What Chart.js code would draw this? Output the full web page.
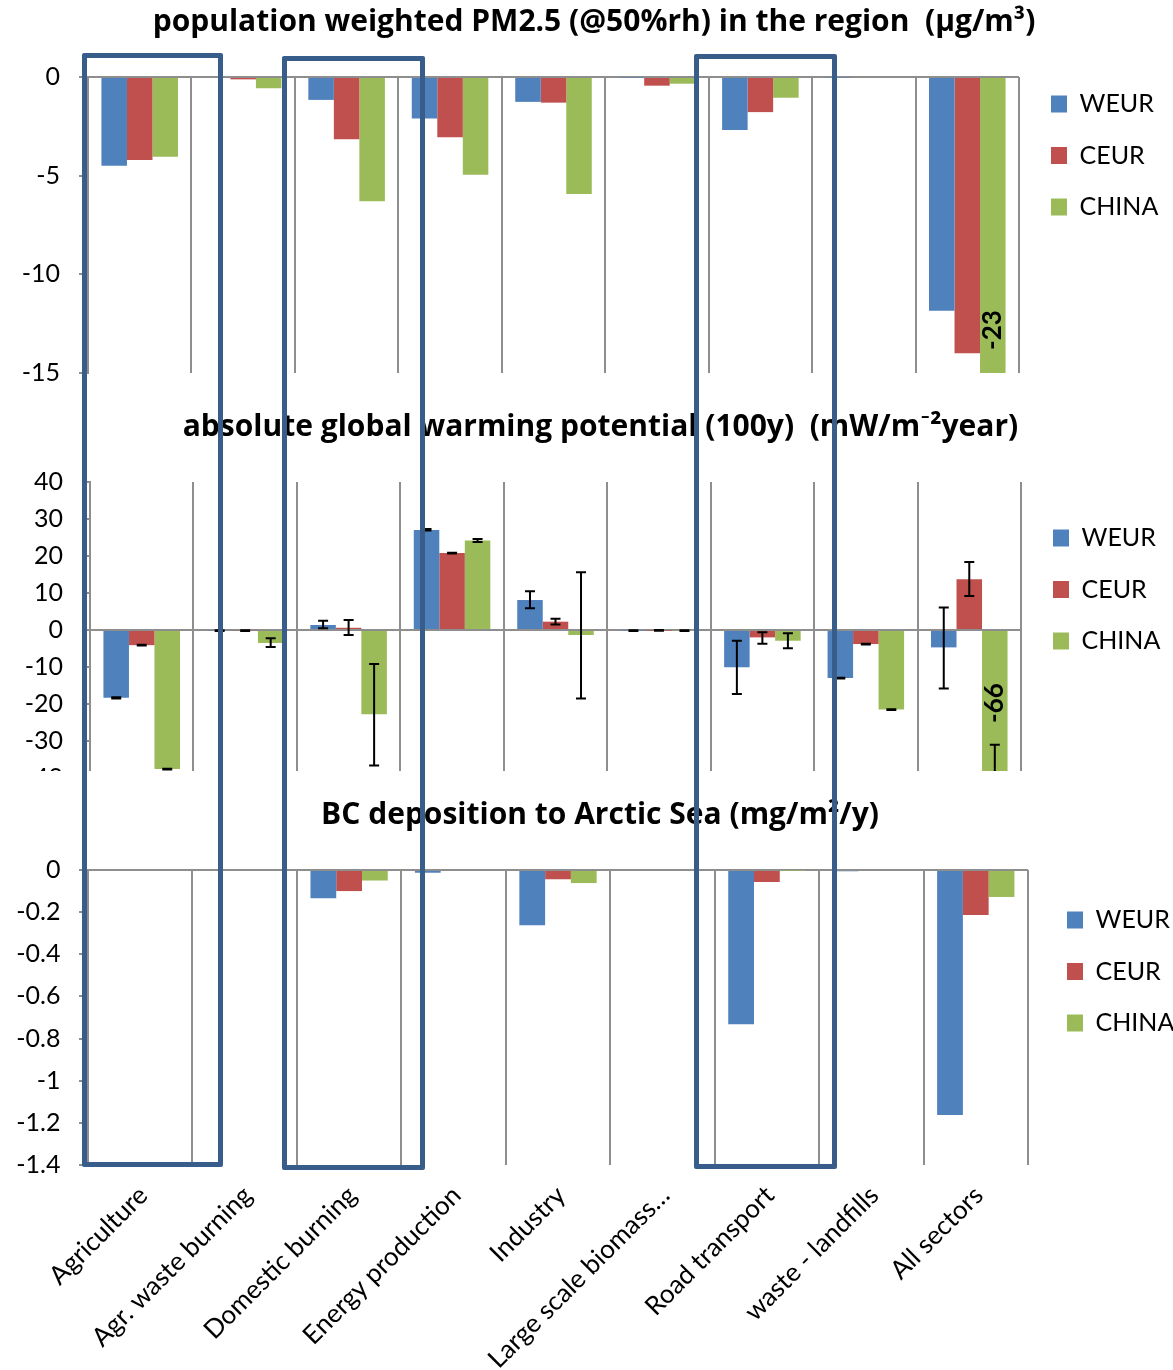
<!DOCTYPE html>
<html>
<head>
<meta charset="utf-8">
<title>Sector contributions</title>
<script src="https://cdn.jsdelivr.net/npm/chart.js@4.4.0/dist/chart.umd.min.js"></script>
<style>
  html, body { margin: 0; padding: 0; background: #fff; overflow: hidden; }
  #wrap { position: relative; width: 1173px; height: 1370px; overflow: hidden; }
  canvas { position: absolute; left: 0; }
  #pmChart { top: 0; }
  #gwpChart { top: 400px; }
  #bcChart { top: 771px; background: #fff; }
  .box { position: absolute; border: 5px solid #385D8A; box-sizing: border-box; border-radius: 2px; }
</style>
</head>
<body>
<div id="wrap">
  <canvas id="pmChart" width="1188" height="407"></canvas>
  <canvas id="gwpChart" width="1201" height="415"></canvas>
  <canvas id="bcChart" width="1200" height="599"></canvas>
  <div class="box" style="left:82px;top:53px;width:141px;height:1114px"></div>
  <div class="box" style="left:282px;top:56px;width:143px;height:1114px"></div>
  <div class="box" style="left:694px;top:54px;width:143px;height:1115px"></div>
</div>
<script>
// data
const categories = ['Agriculture', 'Agr. waste burning', 'Domestic burning', 'Energy production',
    'Industry', 'Large scale biomass\u2026', 'Road transport', 'waste - landfills', 'All sectors'];
const regions = ['WEUR', 'CEUR', 'CHINA'];

// population weighted PM2.5 (ug/m3)
const pmWeur = [-4.5, 0, -1.16, -2.1, -1.26, -0.03, -2.68, -0.03, -11.85];
const pmCeur = [-4.2, -0.12, -3.15, -3.05, -1.3, -0.44, -1.78, 0, -14.0];
const pmChina = [-4.04, -0.57, -6.3, -4.95, -5.93, -0.34, -1.05, 0, -23];

// absolute global warming potential (mW/m2 year) with uncertainty ranges
const gwpWeur = [-18.3, -0.2, 1.35, 27.0, 8.1, -0.15, -10.1, -13.0, -4.7];
const gwpCeur = [-4.1, -0.2, 0.6, 20.8, 2.25, -0.1, -2.0, -3.8, 13.7];
const gwpChina = [-37.6, -3.5, -22.8, 24.2, -1.35, -0.2, -2.9, -21.5, -66];
const gwpWeurLow = [-18.5, -0.3, 0.45, 26.9, 5.9, -0.25, -17.3, -13.1, -15.8];
const gwpWeurHigh = [-18.2, -0.1, 2.5, 27.3, 10.5, -0.1, -2.9, -12.9, 6.1];
const gwpCeurLow = [-4.2, -0.3, -1.35, 20.7, 1.5, -0.2, -3.7, -3.9, 9.2];
const gwpCeurHigh = [-4.0, -0.1, 2.7, 20.9, 3.05, 0, -0.6, -3.7, 18.4];
const gwpChinaLow = [-37.7, -4.6, -36.6, 23.8, -18.5, -0.3, -4.9, -21.6, -101];
const gwpChinaHigh = [-37.5, -2.2, -9.2, 24.6, 15.6, -0.1, -0.9, -21.4, -31];

// BC deposition to Arctic Sea (mg/m2/y)
const bcWeur = [0, 0, -0.134, -0.013, -0.262, 0, -0.732, -0.006, -1.163];
const bcCeur = [0, 0, -0.1, 0, -0.044, 0, -0.057, 0, -0.214];
const bcChina = [0, 0, -0.05, 0, -0.062, 0, -0.002, 0, -0.128];

const FONT = 'Lato, "Open Sans", sans-serif';
const TITLE_FONT = '"Open Sans", Lato, sans-serif';
const colors = ['#4F81BD', '#C0504D', '#9BBB59'];
const gridGray = '#8E8E8E';

Chart.defaults.font.family = FONT;
Chart.defaults.color = '#000';

function tickText(v) {
    return String(Math.round(v * 10) / 10);
}

function makeDatasets(series) {
    return series.map((data, i) => ({
        label: regions[i],
        data: data,
        yAxisID: 'y',
        backgroundColor: colors[i],
        borderWidth: 0,
        barPercentage: 1.0,
        categoryPercentage: 0.74,
    }));
}

// error bars drawn from the chart's own y scale
function errorBars(lows, highs) {
    return {
        id: 'errorBars',
        afterDatasetsDraw(chart) {
            const ctx = chart.ctx;
            const yScale = chart.scales.y;
            const area = chart.chartArea;
            ctx.save();
            ctx.beginPath();
            ctx.rect(area.left, area.top, area.right - area.left, area.bottom - area.top);
            ctx.clip();
            ctx.strokeStyle = '#000';
            ctx.lineWidth = 2;
            lows.forEach((low, i) => {
                const meta = chart.getDatasetMeta(i);
                low.forEach((lo, j) => {
                    const x = meta.data[j].x;
                    const y1 = yScale.getPixelForValue(lo);
                    const y2 = yScale.getPixelForValue(highs[i][j]);
                    ctx.beginPath();
                    ctx.moveTo(x, y1); ctx.lineTo(x, y2);
                    ctx.moveTo(x - 5, y1); ctx.lineTo(x + 5, y1);
                    ctx.moveTo(x - 5, y2); ctx.lineTo(x + 5, y2);
                    ctx.stroke();
                });
            });
            ctx.restore();
        }
    };
}

// rotated value label on a bar that runs off the axis
function offScaleLabel(dsIndex, index, offset) {
    return {
        id: 'offScaleLabel',
        afterDatasetsDraw(chart) {
            const el = chart.getDatasetMeta(dsIndex).data[index];
            const value = chart.data.datasets[dsIndex].data[index];
            const end = Math.min(el.y, chart.chartArea.bottom);
            const ctx = chart.ctx;
            ctx.save();
            ctx.translate(el.x, end - offset);
            ctx.rotate(-Math.PI / 2);
            ctx.font = 'bold 26px ' + FONT;
            ctx.fillStyle = '#000';
            ctx.textAlign = 'center';
            ctx.textBaseline = 'middle';
            ctx.fillText(String(Math.round(value)), 0, 0);
            ctx.restore();
        }
    };
}

// put the legend beside the plot, first item top at (x, y)
function legendAt(x, y) {
    return {
        id: 'legendAt',
        afterLayout(chart) {
            const lg = chart.legend;
            const p = lg.options.labels.padding;
            const w = lg.width, h = lg.height;
            lg.left = x - p;
            lg.top = y - p;
            lg.right = lg.left + w;
            lg.bottom = lg.top + h;
        }
    };
}

function buildChart(id, cfg) {
    const showLabels = !!cfg.showLabels;
    return new Chart(document.getElementById(id), {
        type: 'bar',
        data: { labels: categories, datasets: makeDatasets(cfg.series) },
        plugins: [legendAt(cfg.legendX, cfg.legendY)].concat(cfg.extra || []),
        options: {
            responsive: false,
            animation: false,
            events: [],
            layout: { padding: 0 },
            plugins: {
                title: {
                    display: true,
                    text: cfg.title,
                    color: '#000',
                    font: { family: TITLE_FONT, size: 30, weight: 'bold', lineHeight: 1.2 },
                    padding: { top: cfg.titleTop, bottom: cfg.titleBottom },
                },
                legend: {
                    display: true,
                    position: 'chartArea',
                    align: 'start',
                    labels: {
                        boxWidth: 16,
                        boxHeight: 17,
                        padding: 26.5,
                        color: '#000',
                        font: { size: 25 },
                    },
                },
                tooltip: { enabled: false },
            },
            scales: {
                x: {
                    offset: true,
                    grid: { offset: true, color: gridGray, lineWidth: 2, drawTicks: false },
                    border: { display: false },
                    ticks: {
                        display: showLabels,
                        autoSkip: false,
                        maxRotation: 45,
                        minRotation: 45,
                        padding: 15,
                        labelOffset: 3,
                        color: '#000',
                        font: { size: 26 },
                    },
                    afterFit: (s) => { if (showLabels) s.height = cfg.xHeight; },
                },
                y: {
                    min: cfg.min,
                    max: cfg.max,
                    ticks: {
                        stepSize: cfg.step,
                        padding: cfg.tickPad,
                        color: '#000',
                        font: { size: 25 },
                        callback: tickText,
                    },
                    grid: {
                        color: (c) => (c.tick && Math.abs(c.tick.value) < 1e-9 ? gridGray : 'rgba(0,0,0,0)'),
                        lineWidth: 2,
                        tickColor: gridGray,
                        tickLength: cfg.tickLen,
                        drawTicks: true,
                    },
                    border: { display: true, color: gridGray, width: 2 },
                    afterFit: (s) => { s.width = cfg.left; },
                },
                yR: {
                    position: 'right',
                    display: true,
                    grid: { display: false },
                    border: { display: false },
                    ticks: { display: false },
                    afterFit: (s) => { s.width = cfg.rightGap; },
                },
            },
        },
    });
}

buildChart('pmChart', {
    title: 'population weighted PM2.5 (@50%rh) in the region  (\u00b5g/m\u00b3)',
    series: [pmWeur, pmCeur, pmChina],
    min: -15, max: 0, step: 5,
    titleTop: 4, titleBottom: 37,
    left: 88, rightGap: 1188 - 1019,
    tickLen: 9, tickPad: 19,
    legendX: 1051, legendY: 91.5,
    extra: [offScaleLabel(2, 8, 43)],
});

buildChart('gwpChart', {
    title: 'absolute global warming potential (100y)  (mW/m\u207b\u00b2year)',
    series: [gwpWeur, gwpCeur, gwpChina],
    min: -40, max: 40, step: 10,
    titleTop: 9, titleBottom: 37,
    left: 90, rightGap: 1201 - 1021,
    tickLen: 5, tickPad: 22,
    legendX: 1053, legendY: 125.5,
    extra: [
        errorBars([gwpWeurLow, gwpCeurLow, gwpChinaLow], [gwpWeurHigh, gwpCeurHigh, gwpChinaHigh]),
        offScaleLabel(2, 8, 75),
    ],
});

buildChart('bcChart', {
    title: 'BC deposition to Arctic Sea (mg/m\u00b2/y)',
    series: [bcWeur, bcCeur, bcChina],
    min: -1.4, max: 0, step: 0.2,
    titleTop: 26, titleBottom: 37,
    left: 88, rightGap: 1200 - 1028,
    tickLen: 9, tickPad: 18.5,
    legendX: 1067, legendY: 136.5,
    showLabels: true, xHeight: 205,
});
</script>
</body>
</html>
